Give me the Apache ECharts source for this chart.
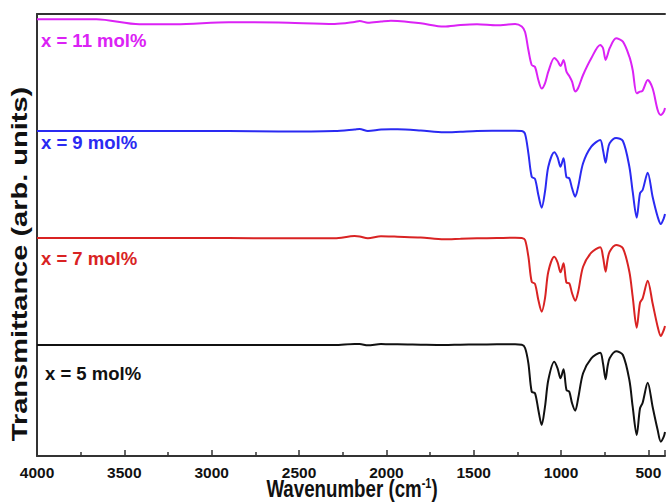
<!DOCTYPE html>
<html>
<head>
<meta charset="utf-8">
<script src="https://cdn.jsdelivr.net/npm/echarts@6/dist/echarts.min.js"></script>
<style>
html,body{margin:0;padding:0;background:#fff;}
#chart{width:668px;height:502px;}
</style>
</head>
<body>
<div id="chart"></div>
<script>
// Wavenumber (cm-1), shared by all spectra
const wavenumbers = [4000, 3660, 3414, 3206, 2902, 2618, 2296, 2182, 2153, 2106, 2031, 1974, 1936, 1803, 1670, 1576, 1481, 1367, 1263, 1225, 1206, 1187, 1168, 1149, 1130, 1111, 1092, 1073, 1039, 1020, 1003, 986, 969, 953, 937, 919, 902, 874, 827, 776, 760, 745, 734, 722, 685, 646, 609, 590, 567, 548, 533, 504, 476, 447, 429, 412, 405];

// Offset transmittance (arb. units)
const x5 = [111, 111, 111, 111, 111, 111, 111, 112, 112, 110.7, 112, 111.7, 111.7, 111.3, 111, 111.3, 111.5, 111.7, 111.7, 111.3, 108, 92.7, 64.3, 62.7, 46, 31, 49.3, 76, 94.3, 87.7, 77.7, 86.7, 66, 64.3, 52.7, 45.3, 57.7, 82.7, 97.7, 103.3, 92.7, 76.7, 89.3, 97.7, 104.7, 101, 76, 49.3, 21, 47.7, 53.3, 73.3, 49.3, 26, 14.3, 19.3, 24];
const x7 = [218, 218, 218, 218, 218, 217.7, 217.7, 220, 219.5, 217.7, 219.7, 219.5, 219.3, 218.5, 216.7, 217.2, 217.7, 218, 218.3, 218, 216, 199.3, 174.3, 172, 156, 144.3, 157.7, 184.3, 199.3, 193.7, 183.7, 192.7, 173.3, 172.7, 162.7, 155.3, 164.3, 189.3, 203.3, 208.7, 199.3, 184.3, 196, 204.3, 211, 207.7, 184.3, 159.3, 128.3, 153.3, 157.7, 175.3, 152.7, 129.3, 120, 126, 130];
const x9 = [325, 325, 325, 325, 325, 324.5, 325, 326.5, 327, 325, 326.5, 326.7, 326.7, 325.5, 323.7, 324.3, 325, 325.2, 325.3, 325, 322, 302.7, 279.3, 277, 261, 248.3, 264.3, 289.3, 303.7, 298.7, 289.3, 297.7, 278.7, 277.7, 267.7, 259.3, 269.3, 292.7, 309.3, 316, 306, 293.3, 304.3, 312.7, 318, 315, 289.3, 264.3, 238.3, 262.7, 266, 283.3, 259.3, 239.3, 232, 237.7, 242];
const x11 = [436.7, 436.7, 431.7, 431.7, 433.7, 433.5, 432, 434, 435, 433.3, 434.5, 435.3, 435, 432.7, 429.5, 431, 431.7, 430.7, 432, 429.5, 424, 406, 391, 389, 376, 367.5, 372.7, 384.3, 398, 395, 390, 396, 384.3, 380, 374.3, 364.5, 368, 381, 397.7, 411, 408, 396, 401, 407.7, 417.7, 414.3, 399.3, 386, 362.7, 364.3, 365.3, 376, 367.7, 346, 341, 344.3, 348];

const seriesNames = ['x = 5 mol%', 'x = 7 mol%', 'x = 9 mol%', 'x = 11 mol%'];
const seriesValues = [x5, x7, x9, x11];
const seriesColors = ['#111111', '#D92323', '#2A2AF2', '#DB22F5'];

const REG = "'Liberation Sans',Arial,sans-serif";

const chart = echarts.init(document.getElementById('chart'), null, {renderer: 'svg'});

const series = seriesValues.map((vals, i) => ({
  name: seriesNames[i],
  type: 'line',
  data: vals.map((v, k) => [wavenumbers[k], v]),
  showSymbol: false,
  smooth: 0.3,
  lineStyle: {color: seriesColors[i], width: 2},
  itemStyle: {color: seriesColors[i]},
  xAxisIndex: 0,
  yAxisIndex: 0,
  animation: false
}));

// label positions (styles)
const labelTops = [364, 249, 133, 31];
const labelLefts = [45, 41, 41, 41];

const graphics = seriesNames.map((n, i) => ({
  type: 'text',
  left: labelLefts[i],
  top: labelTops[i],
  style: {text: n, fill: seriesColors[i], font: 'bold 18.5px ' + REG}
}));

graphics.push({
  type: 'text',
  x: 19, y: 264,
  rotation: Math.PI / 2,
  scaleY: 0.76,
  style: {text: 'Transmittance (arb. units)', fill: '#111', fontSize: 29, fontWeight: 'bold', fontFamily: REG, align: 'center', verticalAlign: 'middle'}
});

graphics.push({
  type: 'text',
  x: 352, y: 489,
  scaleX: 0.78,
  style: {
    text: '{a|Wavenumber (cm}{s|-1}{a|)}',
    align: 'center', verticalAlign: 'middle',
    rich: {
      a: {fontSize: 24, fontWeight: 'bold', fontFamily: REG, fill: '#111', lineHeight: 24},
      s: {fontSize: 14, fontWeight: 'bold', fontFamily: REG, fill: '#111', lineHeight: 14, verticalAlign: 'top'}
    }
  }
});

const option = {
  animation: false,
  backgroundColor: '#fff',
  grid: {left: 37, top: 14, bottom: 46, right: 0, containLabel: false},
  xAxis: [{
    type: 'value',
    inverse: true,
    min: 405, max: 4000, splitNumber: 7,
    axisLine: {show: true, onZero: false, lineStyle: {color: '#333', width: 2}},
    axisTick: {show: true, inside: true, length: 6, lineStyle: {color: '#333', width: 1.5}},
    minorTick: {show: true, splitNumber: 2, length: 4, lineStyle: {color: '#333', width: 1.5}},
    axisLabel: {
      show: true, margin: 8, fontSize: 15.5, fontWeight: 'bold', fontFamily: REG, color: '#111',
      formatter: v => (v % 500 === 0 ? String(v) : '')
    },
    splitLine: {show: false}
  }, {
    type: 'value',
    position: 'top',
    inverse: true,
    min: 405, max: 4000,
    axisLine: {show: true, onZero: false, lineStyle: {color: '#333', width: 2}},
    axisTick: {show: false},
    axisLabel: {show: false},
    splitLine: {show: false}
  }],
  yAxis: {
    type: 'value',
    min: 0, max: 442,
    axisLine: {show: true, onZero: false, lineStyle: {color: '#333', width: 2}},
    axisTick: {show: false},
    axisLabel: {show: false},
    splitLine: {show: false}
  },
  series: series,
  graphic: graphics
};
chart.setOption(option);
</script>
</body>
</html>
